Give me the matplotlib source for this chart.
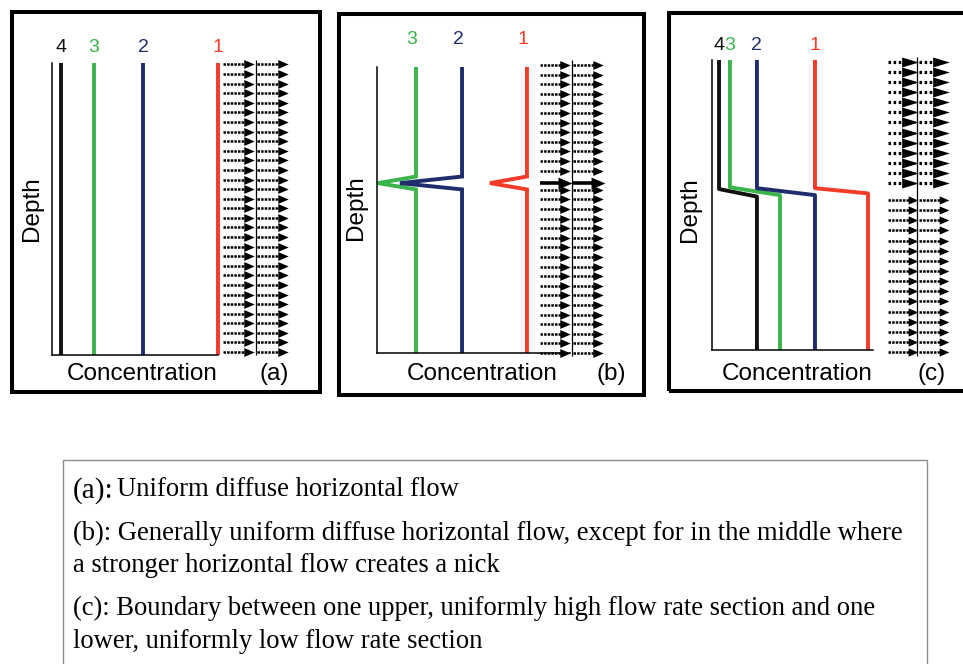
import matplotlib.pyplot as plt
import numpy as np
from matplotlib.patches import Rectangle

W, H = 963, 664

# depth runs from 0 (top) to 10 (bottom), concentration in arbitrary units
depth_top, depth_bottom = 0.0, 10.0

# (a) uniform diffuse horizontal flow
a_labels = ['4', '3', '2', '1']
a_conc = [0.55, 2.5, 5.5, 10.0]

# (b) uniform flow with a stronger flow in the middle -> nick
b_labels = ['3', '2', '1']
b_conc = [2.6, 5.67, 10.0]
b_nick_tip = [0.07, 1.53, 7.53]
b_nick_depth = [3.83, 4.06, 4.28]  # start, tip, end of the nick

# (c) upper high flow section / lower low flow section
c_labels = ['4', '3', '2', '1']
c_upper = [0.45, 1.15, 2.88, 6.6]
c_lower = [2.88, 4.36, 6.6, 10.0]
c_bend_start = [4.45, 4.39, 4.42, 4.42]
c_bend_end = [4.71, 4.66, 4.66, 4.6]

colors = {'1': '#f23b29', '2': '#1f2d6c', '3': '#3bb44b', '4': '#111111'}

captions = [
    ('(a):', 'Uniform diffuse horizontal flow'),
    ('', '(b): Generally uniform diffuse horizontal flow, except for in the middle where'),
    ('', 'a stronger horizontal flow creates a nick'),
    ('', '(c): Boundary between one upper, uniformly high flow rate section and one'),
    ('', 'lower, uniformly low flow rate section'),
]
caption_y = [487, 530, 563, 605, 638]

plt.rcParams['font.family'] = ['Liberation Sans', 'DejaVu Sans']

fig = plt.figure(figsize=(W / 100, H / 100), dpi=100)


def px_axes(left, top, right, bottom):
    return fig.add_axes([left / W, 1 - bottom / H, (right - left) / W, (bottom - top) / H])


def ftext(x, y, s, **kw):
    return fig.text(x / W, 1 - y / H, s, **kw)


def frame(left, top, right, bottom, **kw):
    fig.add_artist(Rectangle((left / W, 1 - bottom / H), (right - left) / W, (bottom - top) / H,
                             transform=fig.transFigure, fill=False, **kw))


def profile_axes(box, xmax):
    ax = px_axes(*box)
    ax.set_xlim(0, xmax)
    ax.set_ylim(depth_bottom, depth_top)
    ax.spines[['top', 'right']].set_visible(False)
    ax.spines[['left', 'bottom']].set_linewidth(1.1)
    ax.set_xticks([])
    ax.set_yticks([])
    ax.patch.set_visible(False)
    return ax


def flow_axes(box, sep_from, sep_to):
    ax = px_axes(*box)
    ax.set_xlim(0, 2)
    ax.set_ylim(depth_bottom, depth_top)
    ax.axis('off')
    ax.vlines(1, sep_from, sep_to, color='k', lw=0.9, clip_on=False)
    return ax


head_std = [(-1, -0.85), (1, 0), (-1, 0.85)]
head_long = [(-1, -0.6), (1, 0), (-1, 0.6)]


def arrows(ax, rows, x0=0.04, x1=0.68, xh=0.8, ms=7.5, dash=(1.0, 0.45), lw=1.8, head=head_std):
    rows = np.asarray(rows)
    for col in (0, 1):
        ax.hlines(rows, col + x0, col + x1, colors='k', lw=lw,
                  linestyles=[dash if dash == 'solid' else (0, dash)], clip_on=False)
        ax.plot(np.full(len(rows), col + xh), rows, ls='none', marker=head, ms=ms,
                color='k', mew=0, clip_on=False)


def curve_labels(ax, labels, xs, dx, dy):
    for lab, x in zip(labels, xs):
        ax.annotate(lab, (x, depth_top), xytext=(dx, dy), textcoords='offset pixels',
                    ha='center', va='center', fontsize=14, color=colors[lab],
                    annotation_clip=False)


lw_curve = 2.8
fs_lab = 17.5

# ---------- (a) ----------
frame(12, 12, 320, 392, lw=2.9, ec='k')
ax = profile_axes((52, 63, 218, 355), 10.0)
for lab, x in zip(a_labels, a_conc):
    ax.plot([x, x], [depth_top, depth_bottom], color=colors[lab], lw=lw_curve,
            solid_capstyle='butt', clip_on=False)
curve_labels(ax, a_labels, a_conc, 0, 16)
fa = flow_axes((222, 63, 290, 355), -0.1, 10.0)
arrows(fa, np.linspace(0.05, 9.9, 31))
ftext(32, 209, 'Depth', rotation=90, ha='center', va='center', fontsize=fs_lab)
ftext(142, 374, 'Concentration', ha='center', va='center', fontsize=fs_lab)
ftext(274, 374, '(a)', ha='center', va='center', fontsize=fs_lab)

# ---------- (b) ----------
frame(339, 14, 644, 395, lw=2.9, ec='k')
ax = profile_axes((377, 67, 570, 353), 12.87)
for lab, x, tip in zip(b_labels, b_conc, b_nick_tip):
    ax.plot([x, x, tip, x, x],
            [depth_top, b_nick_depth[0], b_nick_depth[1], b_nick_depth[2], depth_bottom],
            color=colors[lab], lw=lw_curve, solid_capstyle='butt', solid_joinstyle='miter',
            clip_on=False)
curve_labels(ax, b_labels, b_conc, -4, 27)
fb = flow_axes((539, 67, 605, 353), -0.25, 10.1)
b_rows = np.linspace(-0.07, 10.0, 31)
strong = np.argmin(np.abs(b_rows - b_nick_depth[1]))
arrows(fb, np.delete(b_rows, strong))
arrows(fb, [b_nick_depth[1]], x0=0.02, x1=0.66, xh=0.8, ms=10, dash='solid', lw=2.6)
ftext(356, 208, 'Depth', rotation=90, ha='center', va='center', fontsize=fs_lab)
ftext(482, 374, 'Concentration', ha='center', va='center', fontsize=fs_lab)
ftext(611, 374, '(b)', ha='center', va='center', fontsize=fs_lab)

# ---------- (c) ----------
frame(669, 12.5, 990, 391, lw=2.9, ec='k')
ax = profile_axes((712, 60, 873, 350), 10.32)
for lab, up, lo, d0, d1 in zip(c_labels, c_upper, c_lower, c_bend_start, c_bend_end):
    ax.plot([up, up, lo, lo], [depth_top, d0, d1, depth_bottom], color=colors[lab], lw=lw_curve,
            solid_capstyle='butt', solid_joinstyle='round', clip_on=False)
curve_labels(ax, c_labels, c_upper, 0, 15)
fc = flow_axes((886, 60, 948, 350), -0.1, 10.2)
arrows(fc, np.linspace(0.07, 4.24, 13), x0=0.06, x1=0.52, xh=0.76, ms=12,
       dash=(0.8, 0.8), lw=2.3, head=head_long)
arrows(fc, np.linspace(4.83, 10.07, 16), x0=0.06, x1=0.78, xh=0.86, ms=7, dash=(1.0, 0.45), lw=1.8)
ftext(690, 210, 'Depth', rotation=90, ha='center', va='center', fontsize=fs_lab)
ftext(797, 374, 'Concentration', ha='center', va='center', fontsize=fs_lab)
ftext(932, 374, '(c)', ha='center', va='center', fontsize=fs_lab)

# ---------- caption box ----------
frame(63, 460, 927, 700, lw=1.0, ec='#8c8c8c')
renderer = fig.canvas.get_renderer()
probe = ftext(73, 530, captions[1][1], fontsize=16, family='Liberation Serif')
cap_fs = 16 * 832 / probe.get_window_extent(renderer).width
probe.remove()
space = ftext(0, 0, 'a a', fontsize=cap_fs, family='Liberation Serif')
aa = ftext(0, 0, 'aa', fontsize=cap_fs, family='Liberation Serif')
space_w = space.get_window_extent(renderer).width - aa.get_window_extent(renderer).width
space.remove()
aa.remove()

for (prefix, body), y in zip(captions, caption_y):
    x = 73
    if prefix:
        t = ftext(x, y, prefix, fontsize=cap_fs * 1.1, family='Liberation Serif',
                  va='center_baseline')
        x += t.get_window_extent(renderer).width + 0.5 * space_w
    ftext(x, y, body, fontsize=cap_fs, family='Liberation Serif', va='center_baseline')

fig.savefig('out.png', dpi=100)
